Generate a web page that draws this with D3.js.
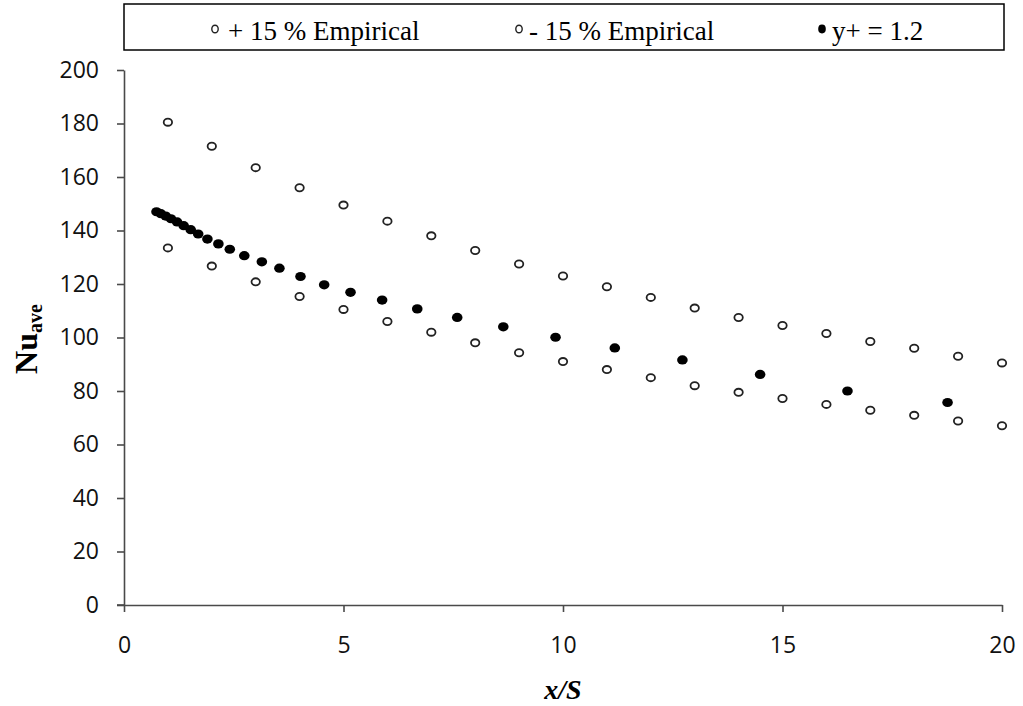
<!DOCTYPE html>
<html><head><meta charset="utf-8">
<script src="https://cdn.jsdelivr.net/npm/d3@7"></script>
<style>body{margin:0;background:#fff}</style>
</head><body><svg id="c" width="1023" height="706"></svg>
<script>
const empX = [1,2,3,4,5,6,7,8,9,10,11,12,13,14,15,16,17,18,19,20];
const upperEmp = [180.5,171.5,163.5,156,149.5,143.5,138,132.5,127.5,123,119,115,111,107.5,104.5,101.5,98.5,96,93,90.5];
const lowerEmp = [133.5,126.7,120.8,115.3,110.5,106,102,98,94.3,91,88,85,82,79.5,77.2,75,72.8,70.9,68.8,67];
const simX = [0.74,0.84,0.95,1.07,1.21,1.36,1.52,1.69,1.90,2.15,2.41,2.74,3.14,3.54,4.02,4.56,5.16,5.88,6.68,7.59,8.64,9.83,11.18,12.72,14.49,16.48,18.76];
const simY = [147.0,146.3,145.4,144.4,143.2,141.8,140.3,138.7,136.8,135.0,133.0,130.6,128.3,125.9,122.8,119.7,116.9,114.0,110.7,107.5,104.0,100.1,96.1,91.6,86.2,80.0,75.7];
const xTicks = [0,5,10,15,20];
const yTicks = [0,20,40,60,80,100,120,140,160,180,200];
const legendLabels = ["+ 15 % Empirical","- 15 % Empirical","y+ = 1.2"];

const svg = d3.select("#c");
const x = d3.scaleLinear().domain([0,20]).range([124,1002]);
const y = d3.scaleLinear().domain([0,200]).range([605,70]);
const axisColor = "#4a4a4a";
const tickFont = "'Open Sans', sans-serif";

// Y axis
const gy = svg.append("g").attr("transform","translate(124,0)")
  .call(d3.axisLeft(y).tickValues(yTicks).tickSize(7).tickSizeOuter(0).tickPadding(18));
// X axis
const gx = svg.append("g").attr("transform","translate(0,605)")
  .call(d3.axisBottom(x).tickValues(xTicks).tickSize(7).tickSizeOuter(0).tickPadding(25));
[gx,gy].forEach(g=>{
  g.select(".domain").attr("stroke",axisColor).attr("stroke-width",1.6);
  g.selectAll(".tick line").attr("stroke",axisColor).attr("stroke-width",1.6);
  g.selectAll("text").attr("fill","#111").style("font-family",tickFont).style("font-size","23px");
});
// extend x axis slightly left of y axis
svg.append("line").attr("x1",117).attr("x2",124).attr("y1",605).attr("y2",605)
  .attr("stroke",axisColor).attr("stroke-width",1.6);

// Data
svg.append("g").selectAll("ellipse").data(empX.map((d,i)=>[d,upperEmp[i]])).join("ellipse")
  .attr("cx",d=>x(d[0])).attr("cy",d=>y(d[1])).attr("rx",4.2).attr("ry",3.6)
  .attr("fill","#fff").attr("stroke","#222").attr("stroke-width",1.8);
svg.append("g").selectAll("ellipse").data(empX.map((d,i)=>[d,lowerEmp[i]])).join("ellipse")
  .attr("cx",d=>x(d[0])).attr("cy",d=>y(d[1])).attr("rx",4.2).attr("ry",3.6)
  .attr("fill","#fff").attr("stroke","#222").attr("stroke-width",1.8);
svg.append("g").selectAll("ellipse").data(simX.map((d,i)=>[d,simY[i]])).join("ellipse")
  .attr("cx",d=>x(d[0])).attr("cy",d=>y(d[1])).attr("rx",5.3).attr("ry",4.6)
  .attr("fill","#000");

// Axis titles
svg.append("text").attr("transform","translate(37,339) rotate(-90)")
  .attr("text-anchor","middle").style("font-family","'Liberation Serif', serif")
  .style("font-weight","bold").style("font-size","32px").attr("fill","#000")
  .call(t=>{ t.append("tspan").text("Nu"); t.append("tspan").attr("dy",5).style("font-size","20px").text("ave"); });
svg.append("text").attr("x",563).attr("y",699).attr("text-anchor","middle")
  .style("font-family","'Liberation Serif', serif").style("font-weight","bold").style("font-style","italic")
  .style("font-size","28px").text("x/S");

// Legend
svg.append("rect").attr("x",124).attr("y",4).attr("width",880).attr("height",46)
  .attr("fill","#fff").attr("stroke","#000").attr("stroke-width",1.5);
const legX = [215,519,822];
const lg = svg.append("g").selectAll("g").data(legendLabels).join("g")
  .attr("transform",(d,i)=>`translate(${legX[i]},29)`);
lg.append("ellipse").attr("rx",(d,i)=>i===2?3.8:3.2).attr("ry",(d,i)=>i===2?4.4:3.8)
  .attr("fill",(d,i)=>i===2?"#000":"#fff").attr("stroke",(d,i)=>i===2?"none":"#222").attr("stroke-width",1.4);
lg.append("text").attr("x",(d,i)=>i===0?13:10).attr("y",11).style("font-family","'Liberation Serif', serif")
  .style("font-size","27px").attr("fill","#000").text(d=>d);
</script></body></html>
